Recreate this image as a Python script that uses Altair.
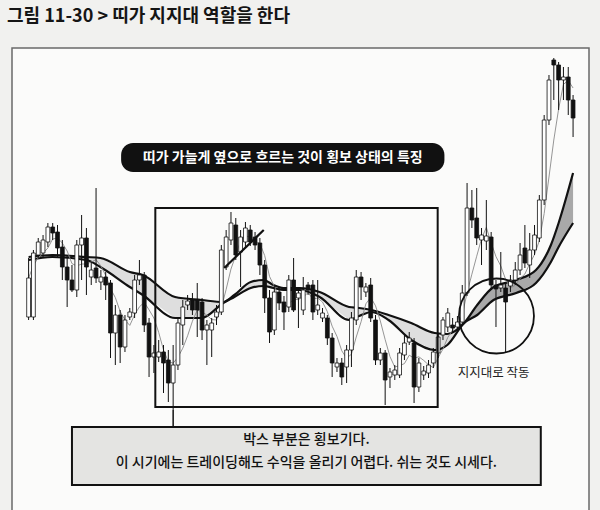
import altair as alt
import pandas as pd

# ---------------- data (prices) ----------------
opens = [203,203,265,267,278,293,288,273,253,240,230,275,282,243,252,238,243,237,187,205,173,203,
         207,240,245,197,163,163,168,160,137,155,195,215,220,220,218,190,190,203,208,253,280,295,
         268,278,290,283,277,255,222,190,228,218,213,240,222,210,235,235,210,202,202,182,153,157,
         153,170,200,243,228,235,200,160,167,143,145,145,165,178,177,133,145,147,157,167,185,193,195,
         193,198,227,312,302,280,279,283,235,232,232,234,240,250,272,255,270,282,320,400,460,455,440,443,420]
closes = [242,267,278,280,293,287,272,253,240,230,275,282,253,250,242,243,235,187,205,173,200,208,
          240,245,195,163,167,168,157,137,155,197,213,219,210,210,190,195,197,208,270,283,297,265,
          283,292,278,275,255,222,188,228,217,208,240,210,227,230,230,208,215,207,182,157,157,143,
          170,202,243,233,233,202,160,167,140,148,150,167,177,182,133,157,149,155,168,183,200,207,192,
          198,227,312,300,282,285,284,235,231,235,218,240,250,265,257,270,285,320,400,440,455,440,443,420,402]
highs = [262,270,282,285,297,297,295,280,265,255,280,305,292,258,332,250,248,240,215,210,205,212,
         245,260,248,202,175,180,175,170,175,202,220,225,227,237,222,200,202,215,275,290,308,302,
         290,298,295,288,282,260,230,235,232,224,245,262,232,243,238,240,240,212,205,187,162,162,
         175,208,250,248,237,242,205,172,170,152,155,172,185,188,182,162,154,160,172,187,203,212,202,
         204,235,337,330,332,292,320,288,240,268,237,245,258,277,295,287,295,325,405,445,462,458,453,453,425]
lows = [200,200,262,262,273,280,262,240,213,228,223,240,225,235,237,230,220,162,155,157,168,200,
        202,235,188,143,147,158,127,118,110,150,175,210,205,183,180,155,163,195,205,250,275,260,
        233,272,274,270,245,207,177,185,210,190,208,208,192,205,225,200,205,198,175,143,148,135,
        137,153,195,220,223,198,155,155,115,132,140,142,160,175,117,128,140,142,152,162,180,188,188,
        188,194,224,292,275,255,270,230,193,228,167,228,235,245,252,242,265,278,315,395,420,410,420,405,383]

# moving-average band, sampled along the candle index
band_x = [0,4.9,12,14.9,21,23.7,30.4,35.9,40.4,42.7,46.1,48.8,50.8,52.9,56.3,60.4,66.5,68.6,71.2,
          74.7,79.4,84.3,86.9,90.4,93.1,96.5,101.2,105.3,108.4,110,113]
band_a = [263,265,263,262,248,245,223,220,218,225,238,240,235,232,232,228,213,212,210,205,197,187,
          186,197,215,233,240,250,275,297,347]
band_b = [260,263,260,253,233,225,202,202,217,223,232,234,232,230,230,223,200,204,208,200,180,170,
          175,197,205,220,227,237,258,273,297]
band_split = 90.4

# annotations (in index / price units)
box_x, box_x2, box_y, box_y2 = [26.3], [84.9], [312], [113]
trend_x, trend_y = [40.6, 48.8], [252, 290]
circle_x, circle_y = [97.1], [204]
label_x, label_x2, label_y, label_y2 = [19.2], [86.3], [377], [348]
label_text = ["띠가 가늘게 옆으로 흐르는 것이 횡보 상태의 특징"]
note_x, note_x2, note_y, note_y2 = [9.0], [106.3], [93], [35]
note_lines = ["박스 부분은 횡보기다.", "이 시기에는 트레이딩해도 수익을 올리기 어렵다. 쉬는 것도 시세다."]
note_line_y = [80, 57]
support_text = ["지지대로 작동"]
support_x, support_y = [96.5], [147]
conn_x, conn_y, conn_y2 = [30], [110], [93]
title_text = "그림 11-30 > 띠가 지지대 역할을 한다"

FONT = "Noto Sans CJK KR"

# ---------------- build ----------------
n = len(opens)
candles = pd.DataFrame({"i": list(range(n)), "open": opens, "close": closes,
                        "high": highs, "low": lows})
band = pd.DataFrame({"bx": band_x, "a": band_a, "b": band_b})

X = alt.Scale(domain=[-24 / 4.9, 576 / 4.9], nice=False, zero=False)
Y = alt.Scale(domain=[10, 520], nice=False, zero=False)

def xq(f):
    return alt.X(f, type="quantitative", scale=X, axis=None)

def yq(f):
    return alt.Y(f, type="quantitative", scale=Y, axis=None)

one = pd.DataFrame({"k": [0]})

frame = alt.Chart(one).mark_rect(fill="#fbfbfa", stroke="#6a6a6a", strokeWidth=1.5).encode(
    x=alt.value(12), x2=alt.value(589), y=alt.value(48), y2=alt.value(530))

band_light = alt.Chart(band).transform_filter(alt.datum.bx <= band_split).mark_area(
    color="#dedede").encode(x=xq("bx"), y=yq("a"), y2="b")
band_dark = alt.Chart(band).transform_filter(alt.datum.bx >= band_split).mark_area(
    color="#a9a9a9").encode(x=xq("bx"), y=yq("a"), y2="b")
band_lines = alt.Chart(band).transform_fold(["a", "b"], as_=["line", "v"]).mark_line(
    color="#111", strokeWidth=2.2, interpolate="monotone").encode(
    x=xq("bx"), y=yq("v"), detail="line:N")

ma = alt.Chart(candles).transform_window(
    ma="mean(close)", frame=[-4, 0], sort=[alt.SortField("i")]).mark_line(
    color="#8a8a8a", strokeWidth=0.9).encode(x=xq("i"), y=yq("ma"))

wicks = alt.Chart(candles).mark_rule(color="#111", strokeWidth=1).encode(
    x=xq("i"), y=yq("low"), y2="high")
bodies = alt.Chart(candles).mark_bar(size=3.8, stroke="#111", strokeWidth=0.8).encode(
    x=xq("i"), y=yq("open"), y2="close",
    fill=alt.when(alt.datum.close >= alt.datum.open).then(alt.value("white")).otherwise(alt.value("#111")))

trend = alt.Chart(pd.DataFrame({"tx": trend_x, "ty": trend_y})).mark_line(
    color="#111", strokeWidth=2.2).encode(x=xq("tx"), y=yq("ty"))

box = alt.Chart(pd.DataFrame({"x": box_x, "x2": box_x2, "y": box_y, "y2": box_y2})).mark_rect(
    fill=None, stroke="#111", strokeWidth=2).encode(x=xq("x"), x2="x2", y=yq("y"), y2="y2")

circle = alt.Chart(pd.DataFrame({"x": circle_x, "y": circle_y})).mark_point(
    shape="circle", size=5625, filled=False, stroke="#111", strokeWidth=1.8, opacity=1).encode(
    x=xq("x"), y=yq("y"))

support = alt.Chart(pd.DataFrame({"x": support_x, "y": support_y, "t": support_text})).mark_text(
    font=FONT, fontSize=12.5, color="#222").encode(x=xq("x"), y=yq("y"), text="t:N")

label_df = pd.DataFrame({"x": label_x, "x2": label_x2, "y": label_y, "y2": label_y2, "t": label_text})
label_box = alt.Chart(label_df).mark_rect(fill="#111", cornerRadius=12).encode(
    x=xq("x"), x2="x2", y=yq("y"), y2="y2")
label_txt = alt.Chart(label_df).transform_calculate(
    cx="(datum.x + datum.x2) / 2", cy="(datum.y + datum.y2) / 2").mark_text(
    font=FONT, fontSize=14, fontWeight="bold", color="white").encode(
    x=xq("cx"), y=yq("cy"), text="t:N")

conn = alt.Chart(pd.DataFrame({"x": conn_x, "y": conn_y, "y2": conn_y2})).mark_rule(
    color="#111", strokeWidth=1.5).encode(x=xq("x"), y=yq("y"), y2="y2")

note_df = pd.DataFrame({"x": note_x, "x2": note_x2, "y": note_y, "y2": note_y2})
note_box = alt.Chart(note_df).mark_rect(fill="#e4e4e2", stroke="#111", strokeWidth=2).encode(
    x=xq("x"), x2="x2", y=yq("y"), y2="y2")
note_txt = alt.Chart(pd.DataFrame({"t": note_lines, "y": note_line_y,
                                   "x": [(note_x[0] + note_x2[0]) / 2] * 2})).mark_text(
    font=FONT, fontSize=14, fontWeight=500, color="#111").encode(
    x=xq("x"), y=yq("y"), text="t:N")

title = alt.Chart(pd.DataFrame({"t": [title_text]})).mark_text(
    font=FONT, fontSize=18, fontWeight="bold", color="#151515", align="left", baseline="middle").encode(
    x=alt.value(7), y=alt.value(17), text="t:N")

chart = alt.layer(frame, band_light, band_dark, band_lines, ma, wicks, bodies, trend, box,
                  circle, support, label_box, label_txt, conn, note_box, note_txt, title).properties(
    width=600, height=510, autosize=alt.AutoSizeParams(type="none"), padding=0,
    background="#f1f1ef").configure_view(stroke=None)

chart.save("out.html", embed_options={"renderer": "svg", "actions": False})
